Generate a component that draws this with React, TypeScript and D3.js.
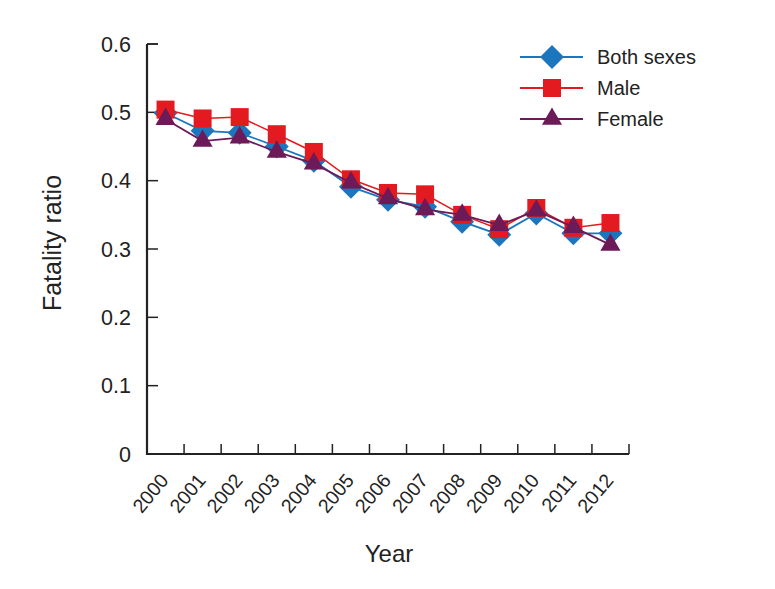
import React from "react";
import * as d3 from "d3";

const years = ["2000","2001","2002","2003","2004","2005","2006","2007","2008","2009","2010","2011","2012"];
const bothSexes = [0.499, 0.473, 0.470, 0.450, 0.429, 0.391, 0.372, 0.362, 0.340, 0.321, 0.352, 0.323, 0.323];
const male = [0.504, 0.491, 0.493, 0.468, 0.442, 0.402, 0.382, 0.380, 0.350, 0.329, 0.360, 0.331, 0.338];
const female = [0.490, 0.458, 0.463, 0.442, 0.425, 0.397, 0.374, 0.358, 0.350, 0.335, 0.356, 0.332, 0.306];
const yTicks = [0, 0.1, 0.2, 0.3, 0.4, 0.5, 0.6];
const seriesNames = ["Both sexes", "Male", "Female"];

const W = 775, H = 589;
const left = 147, right = 629, top = 44, bottom = 454;

const colors = ["#1c76bd", "#e31a1f", "#6c1a58"];
const symbols = [
  { path: d3.symbol(d3.symbolSquare, 288)(), rot: 45 },
  { path: d3.symbol(d3.symbolSquare, 324)(), rot: 0 },
  { path: d3.symbol(d3.symbolTriangle, 175)(), rot: 0 },
];
const font = "'Liberation Sans', Arial, Helvetica, sans-serif";

export default function App() {
  const x = d3.scaleBand<string>().domain(years).range([left, right]).padding(0);
  const cx = (yr: string) => (x(yr) as number) + x.bandwidth() / 2;
  const y = d3.scaleLinear().domain([0, 0.6]).range([bottom, top]);
  const allSeries = [bothSexes, male, female];
  const line = d3.line<number>().x((_, i) => cx(years[i])).y((d) => y(d));

  const xTickPos = years.map((yr) => (x(yr) as number) + x.bandwidth());

  return (
    <svg width={W} height={H} style={{ position: "absolute", left: 0, top: 0, background: "#fff" }} fontFamily={font}>
      {/* y ticks */}
      {yTicks.map((t) => (
        <g key={t}>
          <line x1={left} x2={left + 11} y1={y(t)} y2={y(t)} stroke="#222" strokeWidth={1.5} />
          <text x={131} y={y(t)} dy="0.36em" textAnchor="end" fontSize={21.5} fill="#222">{t === 0 ? "0" : t.toFixed(1)}</text>
        </g>
      ))}
      {/* x ticks */}
      {xTickPos.map((px, i) => (
        <line key={i} x1={px} x2={px} y1={bottom} y2={bottom - 10} stroke="#222" strokeWidth={1.5} />
      ))}
      {years.map((yr) => (
        <text key={yr} transform={`translate(${cx(yr) + 4},${481}) rotate(-50)`} textAnchor="end" fontSize={19.5} fill="#222">{yr}</text>
      ))}
      {/* axes */}
      <path d={`M${left},${top}H${left}V${bottom}H${right}`} fill="none" stroke="#222" strokeWidth={2.2} />
      <line x1={left} x2={left + 11} y1={top} y2={top} stroke="#222" strokeWidth={1.5} />
      {/* axis titles */}
      <text x={389} y={562} textAnchor="middle" fontSize={24} fill="#222">Year</text>
      <text transform={`translate(61,${243}) rotate(-90)`} textAnchor="middle" fontSize={25} fill="#222">Fatality ratio</text>
      {/* series */}
      {allSeries.map((s, si) => (
        <g key={si}>
          <path d={line(s) as string} fill="none" stroke={colors[si]} strokeWidth={si === 1 ? 1.5 : 1.8} />
          {s.map((v, i) => (
            <path key={i} d={symbols[si].path as string} fill={colors[si]}
              transform={`translate(${cx(years[i])},${y(v)}) rotate(${symbols[si].rot})`} />
          ))}
        </g>
      ))}
      {/* legend */}
      {seriesNames.map((name, si) => {
        const ly = 57 + si * 31;
        return (
          <g key={name}>
            <line x1={520} x2={583} y1={ly} y2={ly} stroke={colors[si]} strokeWidth={2} />
            <path d={symbols[si].path as string} fill={colors[si]} transform={`translate(552,${ly}) rotate(${symbols[si].rot})`} />
            <text x={597} y={ly} dy="0.36em" fontSize={20} fill="#222">{name}</text>
          </g>
        );
      })}
    </svg>
  );
}
